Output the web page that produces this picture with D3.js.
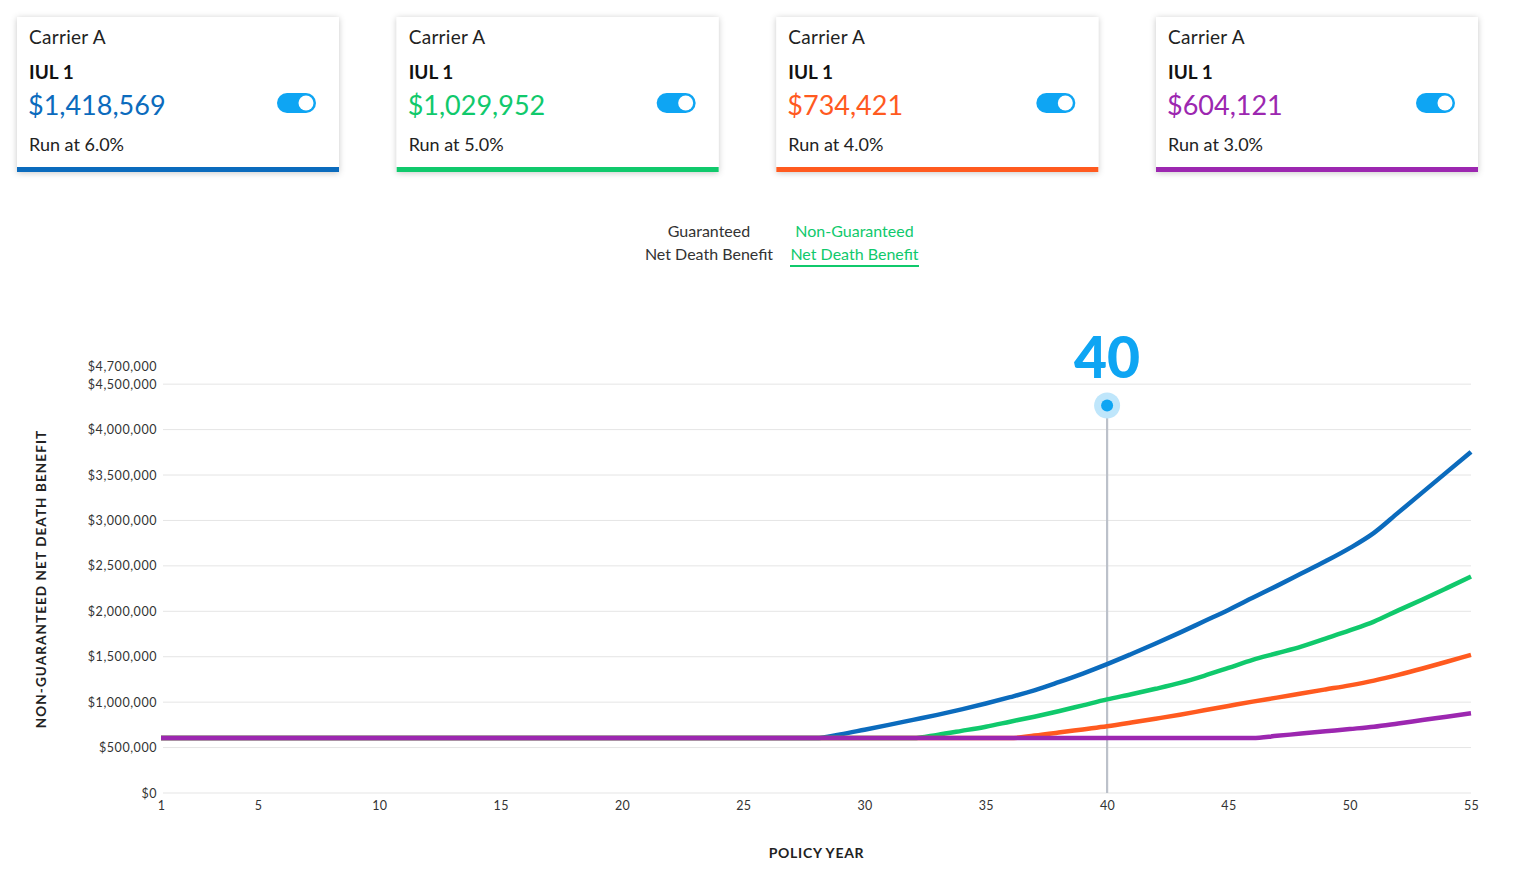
<!DOCTYPE html>
<html>
<head>
<meta charset="utf-8">
<script src="https://cdn.jsdelivr.net/npm/d3@7"></script>
<style>
  body { margin: 0; background: #fff; }
  svg text { font-family: Lato, "Open Sans", sans-serif; }
</style>
</head>
<body>
<svg id="chart" width="1518" height="871"></svg>
<script>
// card data
const carrierNames = ["Carrier A", "Carrier A", "Carrier A", "Carrier A"];
const productNames = ["IUL 1", "IUL 1", "IUL 1", "IUL 1"];
const deathBenefits = [1418569, 1029952, 734421, 604121];
const runRates = ["6.0%", "5.0%", "4.0%", "3.0%"];
const seriesColors = ["#0b6bbd", "#10c96c", "#ff5a1f", "#9c27b0"];

// chart data: non-guaranteed net death benefit by policy year
const policyYears = [1,2,3,4,5,6,7,8,9,10,11,12,13,14,15,16,17,18,19,20,21,22,23,24,25,26,27,28,29,30,
  31,32,33,34,35,36,37,38,39,40,41,42,43,44,45,46,47,48,49,50,51,52,53,54,55];
const runAt6 = [604121,604121,604121,604121,604121,604121,604121,604121,604121,604121,
  604121,604121,604121,604121,604121,604121,604121,604121,604121,604121,
  604121,604121,604121,604121,604121,604121,604121,604121,645000,697000,
  750000,805000,860000,920000,985000,1055000,1130000,1220000,1315000,1418569,
  1530000,1645000,1765000,1890000,2015000,2148000,2280000,2415000,2550000,2695000,
  2863000,3086000,3309000,3532000,3755000];
const runAt5 = [604121,604121,604121,604121,604121,604121,604121,604121,604121,604121,
  604121,604121,604121,604121,604121,604121,604121,604121,604121,604121,
  604121,604121,604121,604121,604121,604121,604121,604121,604121,604121,
  604121,604121,640000,684000,730000,785000,840000,900000,965000,1029952,
  1087000,1147000,1212000,1290000,1377000,1465000,1538000,1611000,1700000,1790000,
  1887000,2010000,2130000,2255000,2382000];
const runAt4 = [604121,604121,604121,604121,604121,604121,604121,604121,604121,604121,
  604121,604121,604121,604121,604121,604121,604121,604121,604121,604121,
  604121,604121,604121,604121,604121,604121,604121,604121,604121,604121,
  604121,604121,604121,604121,604121,604121,632000,665000,700000,734421,
  775000,818000,862000,910000,958000,1006000,1050000,1095000,1140000,1185000,
  1237000,1300000,1370000,1445000,1520000];
const runAt3 = [604121,604121,604121,604121,604121,604121,604121,604121,604121,604121,
  604121,604121,604121,604121,604121,604121,604121,604121,604121,604121,
  604121,604121,604121,604121,604121,604121,604121,604121,604121,604121,
  604121,604121,604121,604121,604121,604121,604121,604121,604121,604121,
  604121,604121,604121,604121,604121,604121,629000,654000,679000,704000,
  730000,766000,803000,840000,877000];

const yTicks = [0,500000,1000000,1500000,2000000,2500000,3000000,3500000,4000000,4500000,4700000];
const xTicks = [1,5,10,15,20,25,30,35,40,45,50,55];
const selectedYear = 40;

const svg = d3.select("#chart");

// drop shadow for cards
let defs = svg.append("defs");
let shadow = defs.append("filter").attr("id", "cardShadow")
    .attr("x", "-10%").attr("y", "-10%").attr("width", "120%").attr("height", "130%");
shadow.append("feDropShadow")
    .attr("dx", 0).attr("dy", 1).attr("stdDeviation", 3)
    .attr("flood-color", "#000").attr("flood-opacity", 0.22);

//------------------ cards
const cardW = 322, cardH = 155, cardTop = 17;
const cardX = d3.scalePoint().domain(d3.range(carrierNames.length)).range([17, 1156]);
const money = d3.format("$,");

let cards = svg.append("g").selectAll("g")
    .data(carrierNames.map((c, i) => ({
        carrier: c, product: productNames[i], value: deathBenefits[i],
        rate: runRates[i], color: seriesColors[i]
    })))
    .enter().append("g")
    .attr("transform", (d, i) => `translate(${cardX(i)},${cardTop})`);

cards.append("rect")
    .attr("width", cardW).attr("height", cardH)
    .attr("fill", "#fff")
    .attr("filter", "url(#cardShadow)");
cards.append("rect")
    .attr("y", cardH - 5).attr("width", cardW).attr("height", 5)
    .attr("fill", d => d.color);
cards.append("text")
    .attr("x", 12).attr("y", 26.5)
    .attr("font-size", 19).attr("letter-spacing", 0.3).attr("fill", "#222")
    .text(d => d.carrier);
cards.append("text")
    .attr("x", 12).attr("y", 61.5)
    .attr("font-size", 19).attr("font-weight", 700).attr("fill", "#111")
    .text(d => d.product);
cards.append("text")
    .attr("x", 11).attr("y", 98)
    .attr("font-size", 27).attr("fill", d => d.color)
    .text(d => money(d.value));
cards.append("text")
    .attr("x", 12).attr("y", 133.5)
    .attr("font-size", 18).attr("fill", "#222")
    .text(d => "Run at " + d.rate);

// toggles
cards.append("rect")
    .attr("x", 260).attr("y", 76).attr("width", 39).attr("height", 20).attr("rx", 10)
    .attr("fill", "#0ea5f3");
cards.append("circle")
    .attr("cx", 289).attr("cy", 86).attr("r", 7.5)
    .attr("fill", "#fff");

//------------------ legend
let legend = svg.append("g").attr("font-size", 16);
legend.append("text").attr("x", 709).attr("y", 236.5).attr("text-anchor", "middle")
    .attr("fill", "#333").text("Guaranteed");
legend.append("text").attr("x", 709).attr("y", 259.5).attr("text-anchor", "middle")
    .attr("fill", "#333").text("Net Death Benefit");
legend.append("text").attr("x", 854.5).attr("y", 236.5).attr("text-anchor", "middle")
    .attr("fill", "#10c96c").text("Non-Guaranteed");
legend.append("text").attr("x", 854.5).attr("y", 259.5).attr("text-anchor", "middle")
    .attr("fill", "#10c96c").text("Net Death Benefit");
legend.append("rect").attr("x", 790).attr("y", 265).attr("width", 129).attr("height", 2)
    .attr("fill", "#10c96c");

//------------------ chart
const xScale = d3.scaleLinear().domain([1, 55]).range([161, 1471]);
const yScale = d3.scaleLinear().domain([0, 4700000]).range([793, 366]);

// grid lines
svg.append("g").selectAll("line")
    .data(yTicks.filter(t => t <= 4500000))
    .enter().append("line")
    .attr("x1", xScale(1) + 2).attr("x2", xScale(55))
    .attr("y1", d => yScale(d)).attr("y2", d => yScale(d))
    .attr("stroke", "#e5e5e5").attr("stroke-width", 1);

// y axis labels
let yAxis = svg.append("g")
    .attr("transform", `translate(${xScale(1) - 3},0)`)
    .call(d3.axisLeft(yScale).tickValues(yTicks).tickFormat(money).tickSize(0).tickPadding(1));
yAxis.select(".domain").remove();
yAxis.selectAll("text").attr("font-size", 12.5).attr("letter-spacing", 0.55).attr("fill", "#333");

// x axis labels
let xAxis = svg.append("g")
    .attr("transform", `translate(0,${yScale(0)})`)
    .call(d3.axisBottom(xScale).tickValues(xTicks).tickFormat(d3.format("d")).tickSize(0).tickPadding(8.5));
xAxis.select(".domain").remove();
xAxis.selectAll("text").attr("font-size", 12.5).attr("letter-spacing", 0.3).attr("fill", "#333");

// axis titles
svg.append("text")
    .attr("transform", `translate(46,579) rotate(-90)`)
    .attr("text-anchor", "middle")
    .attr("font-size", 13.5).attr("font-weight", 700).attr("letter-spacing", 1.1)
    .attr("fill", "#222")
    .text("NON-GUARANTEED NET DEATH BENEFIT");
svg.append("text")
    .attr("x", 816.5).attr("y", 858)
    .attr("text-anchor", "middle")
    .attr("font-size", 14).attr("font-weight", 700).attr("letter-spacing", 0.7)
    .attr("fill", "#222")
    .text("POLICY YEAR");

// selected year marker line
svg.append("line")
    .attr("x1", xScale(selectedYear)).attr("x2", xScale(selectedYear))
    .attr("y1", 405).attr("y2", yScale(0))
    .attr("stroke", "#bcc1ca").attr("stroke-width", 2.2);

// series lines
const seriesList = [runAt6, runAt5, runAt4, runAt3];
const lineGen = d3.line()
    .x((d, i) => xScale(policyYears[i]))
    .y(d => yScale(d))
    .curve(d3.curveMonotoneX);

svg.append("g").selectAll("path")
    .data(seriesList)
    .enter().append("path")
    .attr("d", lineGen)
    .attr("fill", "none")
    .attr("stroke", (d, i) => seriesColors[i])
    .attr("stroke-width", 4.5)
    .attr("stroke-linejoin", "round");

// selected year label and dot
svg.append("text")
    .attr("x", xScale(selectedYear)).attr("y", 378)
    .attr("text-anchor", "middle")
    .attr("font-size", 57).attr("font-weight", 900)
    .attr("fill", "#0ea5f3")
    .text(selectedYear);
svg.append("circle")
    .attr("cx", xScale(selectedYear)).attr("cy", 405.5).attr("r", 13)
    .attr("fill", "#bfe6fb");
svg.append("circle")
    .attr("cx", xScale(selectedYear)).attr("cy", 405.5).attr("r", 6)
    .attr("fill", "#0ea5f3");
</script>
</body>
</html>
